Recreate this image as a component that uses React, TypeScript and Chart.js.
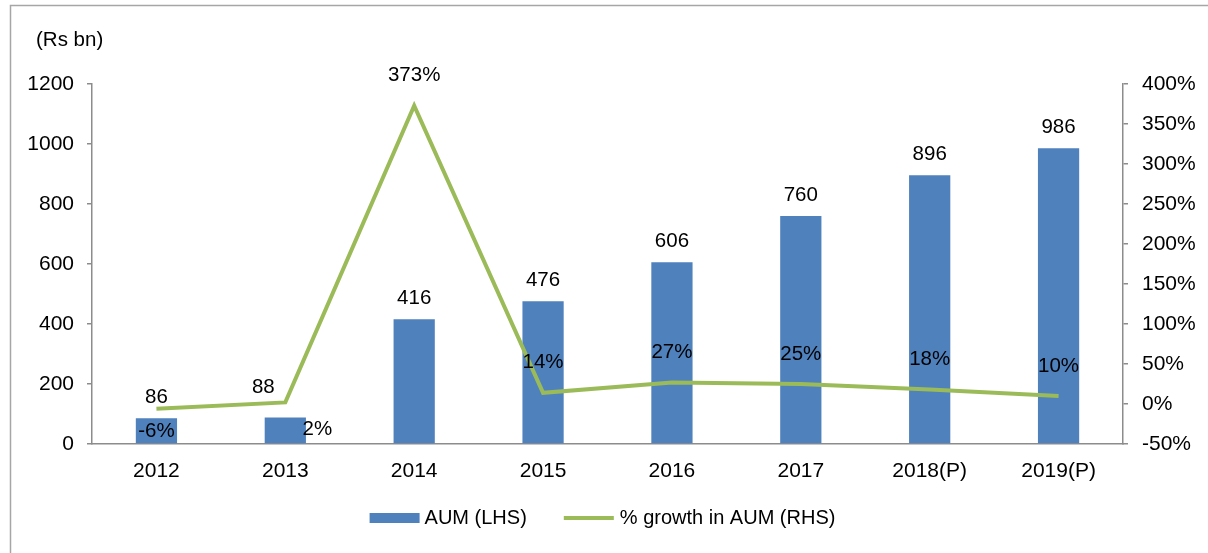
import React, { useEffect, useRef } from "react";
import { Chart, registerables } from "chart.js";

Chart.register(...registerables);

const categories = ["2012", "2013", "2014", "2015", "2016", "2017", "2018(P)", "2019(P)"];
const aumValues = [86, 88, 416, 476, 606, 760, 896, 986];
const growthValues = [-6, 2, 373, 14, 27, 25, 18, 10];
const aumLabelPlacement = ["above", "aboveLeft", "above", "above", "above", "above", "above", "above"];
const growthLabelPlacement = ["below", "belowRight", "above", "above", "above", "above", "above", "above"];
const leftTicks = [0, 200, 400, 600, 800, 1000, 1200];
const rightTicks = [-50, 0, 50, 100, 150, 200, 250, 300, 350, 400];

const FONT = "'Liberation Sans', Arial, sans-serif";
const BLUE = "#4F81BD";
const GREEN = "#9BBB59";
const AXIS = "#8C8C8C";

const overlayPlugin = {
  id: "overlay",
  afterDatasetsDraw(chart: any) {
    const ctx = chart.ctx;
    ctx.save();
    ctx.font = `20.5px ${FONT}`;
    ctx.fillStyle = "#000";
    ctx.textAlign = "center";
    ctx.textBaseline = "middle";
    const barMeta = chart.getDatasetMeta(1);
    barMeta.data.forEach((el: any, i: number) => {
      let dx = 0;
      let dy = -21;
      if (aumLabelPlacement[i] === "aboveLeft") {
        dx = -22;
        dy = -30;
      }
      ctx.fillText(String(aumValues[i]), el.x + dx, el.y + dy);
    });
    const lineMeta = chart.getDatasetMeta(0);
    lineMeta.data.forEach((el: any, i: number) => {
      const p = growthLabelPlacement[i];
      let dx = 0;
      let dy = -30;
      if (p === "below") dy = 23;
      if (p === "belowRight") {
        dx = 32;
        dy = 27;
      }
      ctx.fillText(growthValues[i] + "%", el.x + dx, el.y + dy);
    });
    ctx.restore();
  },
  afterDraw(chart: any) {
    const ctx = chart.ctx;
    ctx.save();
    ctx.strokeStyle = "#A6A6A6";
    ctx.lineWidth = 1.5;
    ctx.strokeRect(10.5, 5.5, 1300, 700);
    ctx.font = `20.5px ${FONT}`;
    ctx.fillStyle = "#000";
    ctx.textAlign = "left";
    ctx.textBaseline = "middle";
    ctx.fillText("(Rs bn)", 36, 40);
    ctx.font = `20px ${FONT}`;
    const items = [
      { text: "AUM (LHS)", type: "bar" },
      { text: "% growth in AUM (RHS)", type: "line" },
    ];
    const sym = 50;
    const gapSym = 5;
    const gapItem = 37;
    const widths = items.map((it) => sym + gapSym + ctx.measureText(it.text).width);
    const total = widths.reduce((a, b) => a + b, 0) + gapItem * (items.length - 1);
    let x = chart.width / 2 - total / 2 - 2;
    const y = 518;
    items.forEach((it, i) => {
      if (it.type === "bar") {
        ctx.fillStyle = BLUE;
        ctx.fillRect(x, y - 5, sym, 10);
      } else {
        ctx.strokeStyle = GREEN;
        ctx.lineWidth = 4;
        ctx.beginPath();
        ctx.moveTo(x, y);
        ctx.lineTo(x + sym, y);
        ctx.stroke();
      }
      ctx.fillStyle = "#000";
      ctx.fillText(it.text, x + sym + gapSym + (it.type === "line" ? 1 : 0), y);
      x += widths[i] + gapItem;
    });
    ctx.restore();
  },
};

export default function App() {
  const ref = useRef<HTMLCanvasElement | null>(null);
  useEffect(() => {
    if (!ref.current) return;
    const chart = new Chart(ref.current, {
      type: "bar",
      data: {
        labels: categories,
        datasets: [
          {
            type: "line",
            label: "% growth in AUM (RHS)",
            data: growthValues,
            yAxisID: "y1",
            borderColor: GREEN,
            backgroundColor: GREEN,
            borderWidth: 4,
            pointRadius: 0,
            tension: 0,
            order: 0,
          } as any,
          {
            type: "bar",
            label: "AUM (LHS)",
            data: aumValues,
            yAxisID: "y",
            backgroundColor: BLUE,
            categoryPercentage: 1,
            barPercentage: 0.32,
            order: 1,
          },
        ],
      },
      options: {
        animation: false,
        responsive: false,
        maintainAspectRatio: false,
        layout: { padding: { top: 84, left: 0, right: 0, bottom: 0 } },
        plugins: { legend: { display: false }, tooltip: { enabled: false } },
        scales: {
          x: {
            grid: { display: true, drawOnChartArea: false, drawTicks: false },
            border: { display: true, color: AXIS, width: 1.5 },
            ticks: { color: "#000", font: { family: FONT, size: 21 }, padding: 15, maxRotation: 0 },
            afterFit(scale: any) {
              scale.height = 109;
            },
          },
          y: {
            position: "left",
            min: 0,
            max: 1200,
            afterBuildTicks(scale: any) {
              scale.ticks = leftTicks.map((v) => ({ value: v }));
            },
            grid: { drawOnChartArea: false, color: AXIS, tickLength: 5, lineWidth: 1.5 },
            border: { display: true, color: AXIS, width: 1.5 },
            ticks: {
              color: "#000",
              font: { family: FONT, size: 21 },
              padding: 13,
              callback: (v: any) => String(v),
            },
            afterFit(scale: any) {
              scale.width = 92;
            },
          },
          y1: {
            position: "right",
            min: -50,
            max: 400,
            afterBuildTicks(scale: any) {
              scale.ticks = rightTicks.map((v) => ({ value: v }));
            },
            grid: { drawOnChartArea: false, color: AXIS, tickLength: 5, lineWidth: 1.5 },
            border: { display: true, color: AXIS, width: 1.5 },
            ticks: {
              color: "#000",
              font: { family: FONT, size: 21 },
              padding: 14,
              callback: (v: any) => v + "%",
            },
            afterFit(scale: any) {
              scale.width = 1208 - 1123;
            },
          },
        },
      },
      plugins: [overlayPlugin],
    });
    return () => chart.destroy();
  }, []);
  return (
    <div style={{ position: "fixed", left: 0, top: 0, width: 1208, height: 553, background: "#fff" }}>
      <canvas ref={ref} width={1208} height={553} style={{ width: 1208, height: 553 }} />
    </div>
  );
}
